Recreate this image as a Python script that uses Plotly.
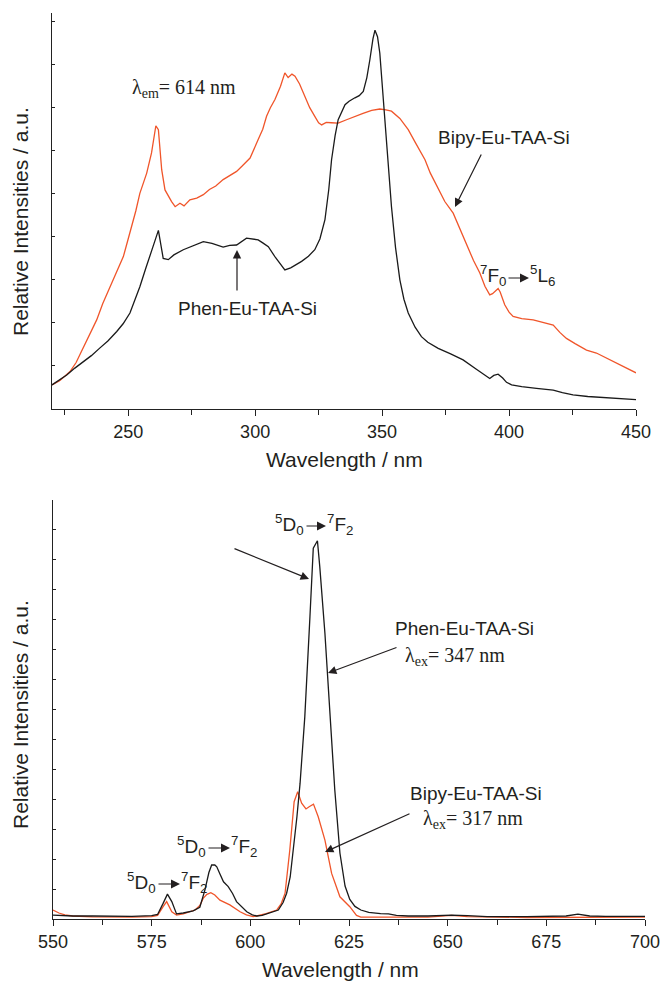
import plotly.graph_objects as go

# ---------------- data (top: excitation spectra, λem = 614 nm) ----------------
exc_phen_nm = [220, 222.5, 225.8, 229, 232.3, 235.5, 238.9, 242, 245.5, 248, 250.7, 252.5, 254.6, 257,
               259.2, 260.5, 261.9, 262.8, 263.8, 265.8, 268, 271.7, 275, 279.6, 283, 287.4, 290, 292.7,
               296.6, 299, 301.2, 303, 305.2, 308, 311.7, 314, 318.3, 321, 323.5, 325.5, 327.5, 329,
               330.1, 331.5, 332.7, 335.4, 337, 339.3, 341, 342.6, 344, 345.2, 346.4, 347.2, 348.2,
               349.1, 350, 351.1, 352.4, 353.7, 355.3, 357, 358.6, 360.3, 363, 365.5, 368, 372.1, 377,
               381.9, 387, 392.4, 394, 395.7, 397.5, 399, 401, 405, 410.8, 414, 417.4, 421, 425.2, 431,
               438.4, 444, 450]
exc_phen_int = [0.56, 0.66, 0.79, 0.95, 1.10, 1.24, 1.42, 1.58, 1.80, 1.98, 2.23, 2.50, 2.84, 3.28,
                3.70, 3.90, 4.15, 3.85, 3.50, 3.47, 3.58, 3.70, 3.78, 3.89, 3.85, 3.76, 3.80, 3.81,
                3.97, 3.95, 3.93, 3.86, 3.77, 3.52, 3.23, 3.28, 3.43, 3.55, 3.70, 3.95, 4.40, 5.10,
                5.79, 6.35, 6.72, 7.07, 7.15, 7.23, 7.28, 7.38, 7.70, 8.12, 8.60, 8.80, 8.65,
                8.27, 7.60, 6.72, 5.60, 4.70, 3.75, 3.00, 2.55, 2.23, 1.90, 1.68, 1.55, 1.41, 1.28,
                1.14, 0.93, 0.71, 0.78, 0.81, 0.72, 0.62, 0.56, 0.52, 0.48, 0.46, 0.44, 0.38, 0.33, 0.29,
                0.26, 0.24, 0.22]

exc_bipy_nm = [220, 223, 225, 227.1, 229.5, 232.3, 235, 237.6, 240, 242.8, 245.5, 248.1, 250, 251.4,
               253, 254.6, 257.3, 259.2, 260.3, 260.9, 261.9, 262.5, 263.2, 264.5, 265.8, 267.1, 268.5,
               270.4, 272, 274.3, 277, 279.6, 282, 284.5, 287.4, 290, 292.7, 295, 298, 301.2, 303,
               304.5, 306, 307.8, 310, 311.7, 313, 314.5, 315.7, 317.5, 319.6, 321.5, 323.5, 325,
               326.2, 328, 330, 332.7, 336, 339.3, 342.5, 345.9, 349.1, 351.5, 353.7, 357, 360.3, 363,
               366.9, 369, 372, 374.7, 378, 380.5, 383.3, 386, 388.5, 390.5, 392.4, 393.5, 395.7,
               396.5, 398.3, 400, 401.6, 405, 409.5, 413, 417.4, 420, 422.6, 426, 430.5, 434.4, 438.4,
               444, 450]
exc_bipy_int = [0.56, 0.66, 0.76, 0.87, 1.08, 1.41, 1.74, 2.07, 2.45, 2.84, 3.20, 3.54, 3.95, 4.24,
                4.60, 5.01, 5.48, 5.95, 6.40, 6.58, 6.49, 6.00, 5.56, 5.09, 4.95, 4.82, 4.70,
                4.78, 4.72, 4.86, 4.90, 4.98, 5.10, 5.18, 5.33, 5.42, 5.52, 5.65, 5.83, 6.26, 6.50,
                6.80, 7.00, 7.19, 7.50, 7.81, 7.70, 7.78, 7.73, 7.55, 7.26, 7.00, 6.80, 6.65,
                6.60, 6.66, 6.65, 6.64, 6.72, 6.80, 6.87, 6.94, 6.97, 6.95, 6.92, 6.75, 6.49, 6.20,
                5.79, 5.48, 5.15, 4.82, 4.55, 4.20, 3.85, 3.45, 3.16, 2.85, 2.65, 2.68, 2.80,
                2.72, 2.42, 2.25, 2.15, 2.10, 2.07, 2.02, 1.95, 1.78, 1.64, 1.52, 1.37, 1.30, 1.18,
                1.02, 0.84]

# ---------------- data (bottom: emission spectra) ----------------
em_phen_nm = [550, 555, 560, 565, 570, 575, 576.5, 577.9, 579.0, 580.1, 581.3, 583, 585.5, 587.2,
              588.5, 589.5, 590.2, 591.0, 591.5, 592.3, 593.2, 594.4, 595.5, 596.5, 597.8, 599.1,
              600.5, 601.6, 603, 604.1, 605.5, 607.1, 608.3, 609.2, 610.1, 610.9, 611.8, 612.6,
              613.8, 615.1, 615.95, 617.0, 617.6, 618.9, 620.2, 621.4, 622.7, 624.0, 625.2, 626.5,
              628, 630, 633, 635, 637, 640, 645, 651, 655, 660, 670, 680, 683, 686, 690, 700]
em_phen_int = [0.13, 0.10, 0.10, 0.09, 0.09, 0.11, 0.15, 0.52, 0.83, 0.58, 0.17, 0.20, 0.27, 0.39,
               0.97, 1.55, 1.80, 1.80, 1.74, 1.50, 1.24, 1.08, 0.85, 0.58, 0.40, 0.24,
               0.14, 0.10, 0.12, 0.17, 0.22, 0.30, 0.55, 0.86, 1.40, 2.30, 3.40, 4.52,
               6.74, 10.07, 12.36, 12.61, 11.74, 9.52, 6.80, 4.30, 2.20, 1.10, 0.65, 0.42,
               0.30, 0.22, 0.18, 0.17, 0.12, 0.10, 0.10, 0.13, 0.11, 0.08, 0.08, 0.10, 0.16, 0.10, 0.09, 0.09]

em_bipy_nm = [550, 551.5, 553, 555, 560, 565, 570, 575, 576.5, 577.9, 578.8, 580.1, 581.3, 583, 586,
              587.2, 588.1, 589, 590, 591, 592.3, 594.8, 596, 597.4, 599, 600.7, 601.6, 604, 606.7,
              607.8, 608.8, 610, 611.1, 612, 613, 614.1, 615, 616, 617.2, 618.9, 620.6, 622.7, 625.2,
              626.9, 628, 635, 645, 651, 655, 670, 700]
em_bipy_int = [0.30, 0.20, 0.14, 0.10, 0.07, 0.06, 0.06, 0.08, 0.12, 0.41, 0.58, 0.24, 0.13, 0.17, 0.30,
               0.45, 0.70, 0.82, 0.88, 0.80, 0.63, 0.47, 0.36, 0.24, 0.14, 0.08, 0.10, 0.18, 0.30,
               0.50, 0.86, 2.30, 3.91, 4.24, 3.86, 3.67, 3.75, 3.83, 3.41, 2.63, 1.52, 0.74, 0.41,
               0.12, 0.06, 0.05, 0.06, 0.12, 0.08, 0.05, 0.06]

top_ticks = [250, 300, 350, 400, 450]
bottom_ticks = [550, 575, 600, 625, 650, 675, 700]

BLACK = "#1a1a1a"
RED = "#F0552A"
TXT = "#231F20"
SANS = "Liberation Sans, Arial, sans-serif"
SERIF = "Liberation Serif, Times New Roman, serif"

W, H = 661, 981


def fx(p):
    return p / W


def fy(p):
    return 1 - p / H


fig = go.Figure()
fig.add_trace(go.Scatter(x=exc_bipy_nm, y=exc_bipy_int, mode="lines",
                         line=dict(color=RED, width=1.3), xaxis="x", yaxis="y"))
fig.add_trace(go.Scatter(x=exc_phen_nm, y=exc_phen_int, mode="lines",
                         line=dict(color=BLACK, width=1.3), xaxis="x", yaxis="y"))
fig.add_trace(go.Scatter(x=em_bipy_nm, y=em_bipy_int, mode="lines",
                         line=dict(color=RED, width=1.3), xaxis="x2", yaxis="y2"))
fig.add_trace(go.Scatter(x=em_phen_nm, y=em_phen_int, mode="lines",
                         line=dict(color=BLACK, width=1.3), xaxis="x2", yaxis="y2"))

axis_common = dict(showgrid=False, zeroline=False, showline=True, linecolor="#222",
                   linewidth=1.3, mirror=False)

fig.update_layout(
    width=W, height=H, showlegend=False,
    margin=dict(l=0, r=0, t=0, b=0, autoexpand=False),
    paper_bgcolor="white", plot_bgcolor="white",
    xaxis=dict(**axis_common, domain=[fx(52), fx(636)], range=[220, 450], anchor="y",
               tickmode="array", tickvals=top_ticks, ticks="outside", ticklen=6, tickwidth=1.2,
               tickcolor="#222", minor=dict(ticks="outside", ticklen=5, tickwidth=1.2,
                                            tickcolor="#222", tickmode="array",
                                            tickvals=[225, 275, 325, 375, 425]),
               tickfont=dict(family=SANS, size=18, color=TXT)),
    yaxis=dict(**axis_common, domain=[fy(409), fy(13)], range=[0, 9.2], anchor="x",
               showticklabels=False, ticks="inside", ticklen=3, tickwidth=1, tickcolor="#222",
               dtick=1, tick0=0),
    xaxis2=dict(**axis_common, domain=[fx(53), fx(645)], range=[550, 700], anchor="y2",
                tickmode="array", tickvals=bottom_ticks, ticks="outside", ticklen=6, tickwidth=1.2,
                tickcolor="#222", minor=dict(ticks="outside", ticklen=5, tickwidth=1.2,
                                             tickcolor="#222", tickmode="array",
                                             tickvals=[562.5, 587.5, 612.5, 637.5, 662.5, 687.5]),
                tickfont=dict(family=SANS, size=18, color=TXT)),
    yaxis2=dict(**axis_common, domain=[fy(919), fy(500)], range=[0, 13.97], anchor="x2",
                showticklabels=False, ticks="inside", ticklen=3, tickwidth=1, tickcolor="#222",
                dtick=1, tick0=0),
)

ann = []


def text(x, y, s, size=19, family=SANS, xanchor="center", yanchor="middle", angle=0):
    ann.append(dict(x=fx(x), y=fy(y), xref="paper", yref="paper", text=s, showarrow=False,
                    xanchor=xanchor, yanchor=yanchor, textangle=angle,
                    font=dict(family=family, size=size, color=TXT)))


def arrow(x0, y0, x1, y1, size=1.4):
    # tail (x0,y0) -> head (x1,y1), pixel coords
    ann.append(dict(x=fx(x1), y=fy(y1), xref="paper", yref="paper", text="", showarrow=True,
                    ax=x0 - x1, ay=y0 - y1, axref="pixel", ayref="pixel",
                    arrowhead=2, arrowsize=size, arrowwidth=1.2, arrowcolor=TXT, standoff=0))


def transition(left, right, xa, xb, y, size=19):
    text(xa + 1, y, left, size=size, xanchor="right")
    text(xb - 1, y, right, size=size, xanchor="left")
    arrow(xa, y + 2, xb, y + 2, size=1.5)


# axis titles
text(344, 459, "Wavelength / nm", size=21)
text(340, 969, "Wavelength / nm", size=21)
text(20, 222, "Relative Intensities / a.u.", size=21, angle=-90)
text(20, 715, "Relative Intensities / a.u.", size=21, angle=-90)

# top panel labels
text(184, 88, "λ<sub>em</sub>= 614 nm", size=20, family=SERIF)
text(247, 308, "Phen-Eu-TAA-Si")
arrow(237, 292, 237, 250)
text(504, 137, "Bipy-Eu-TAA-Si")
arrow(482, 153, 455, 207)
transition("<sup>7</sup>F<sub>0</sub>", "<sup>5</sup>L<sub>6</sub>", 507, 529, 276, size=19)

# bottom panel labels
transition("<sup>5</sup>D<sub>0</sub>", "<sup>7</sup>F<sub>2</sub>", 305, 326, 524, size=19)
arrow(233, 548, 309, 579)
text(464, 628, "Phen-Eu-TAA-Si")
text(455, 656, "λ<sub>ex</sub>= 347 nm", size=20, family=SERIF)
arrow(398, 647, 328, 673)
text(476, 793, "Bipy-Eu-TAA-Si")
text(473, 819, "λ<sub>ex</sub>= 317 nm", size=20, family=SERIF)
arrow(411, 813, 325, 852)
transition("<sup>5</sup>D<sub>0</sub>", "<sup>7</sup>F<sub>2</sub>", 207, 230, 846, size=19)
transition("<sup>5</sup>D<sub>0</sub>", "<sup>7</sup>F<sub>2</sub>", 157, 180, 882, size=19)

fig.update_layout(annotations=ann)
fig.write_html("out.html", config={"displayModeBar": False},
               post_script="document.body.style.margin='0';document.body.style.overflow='hidden';")
